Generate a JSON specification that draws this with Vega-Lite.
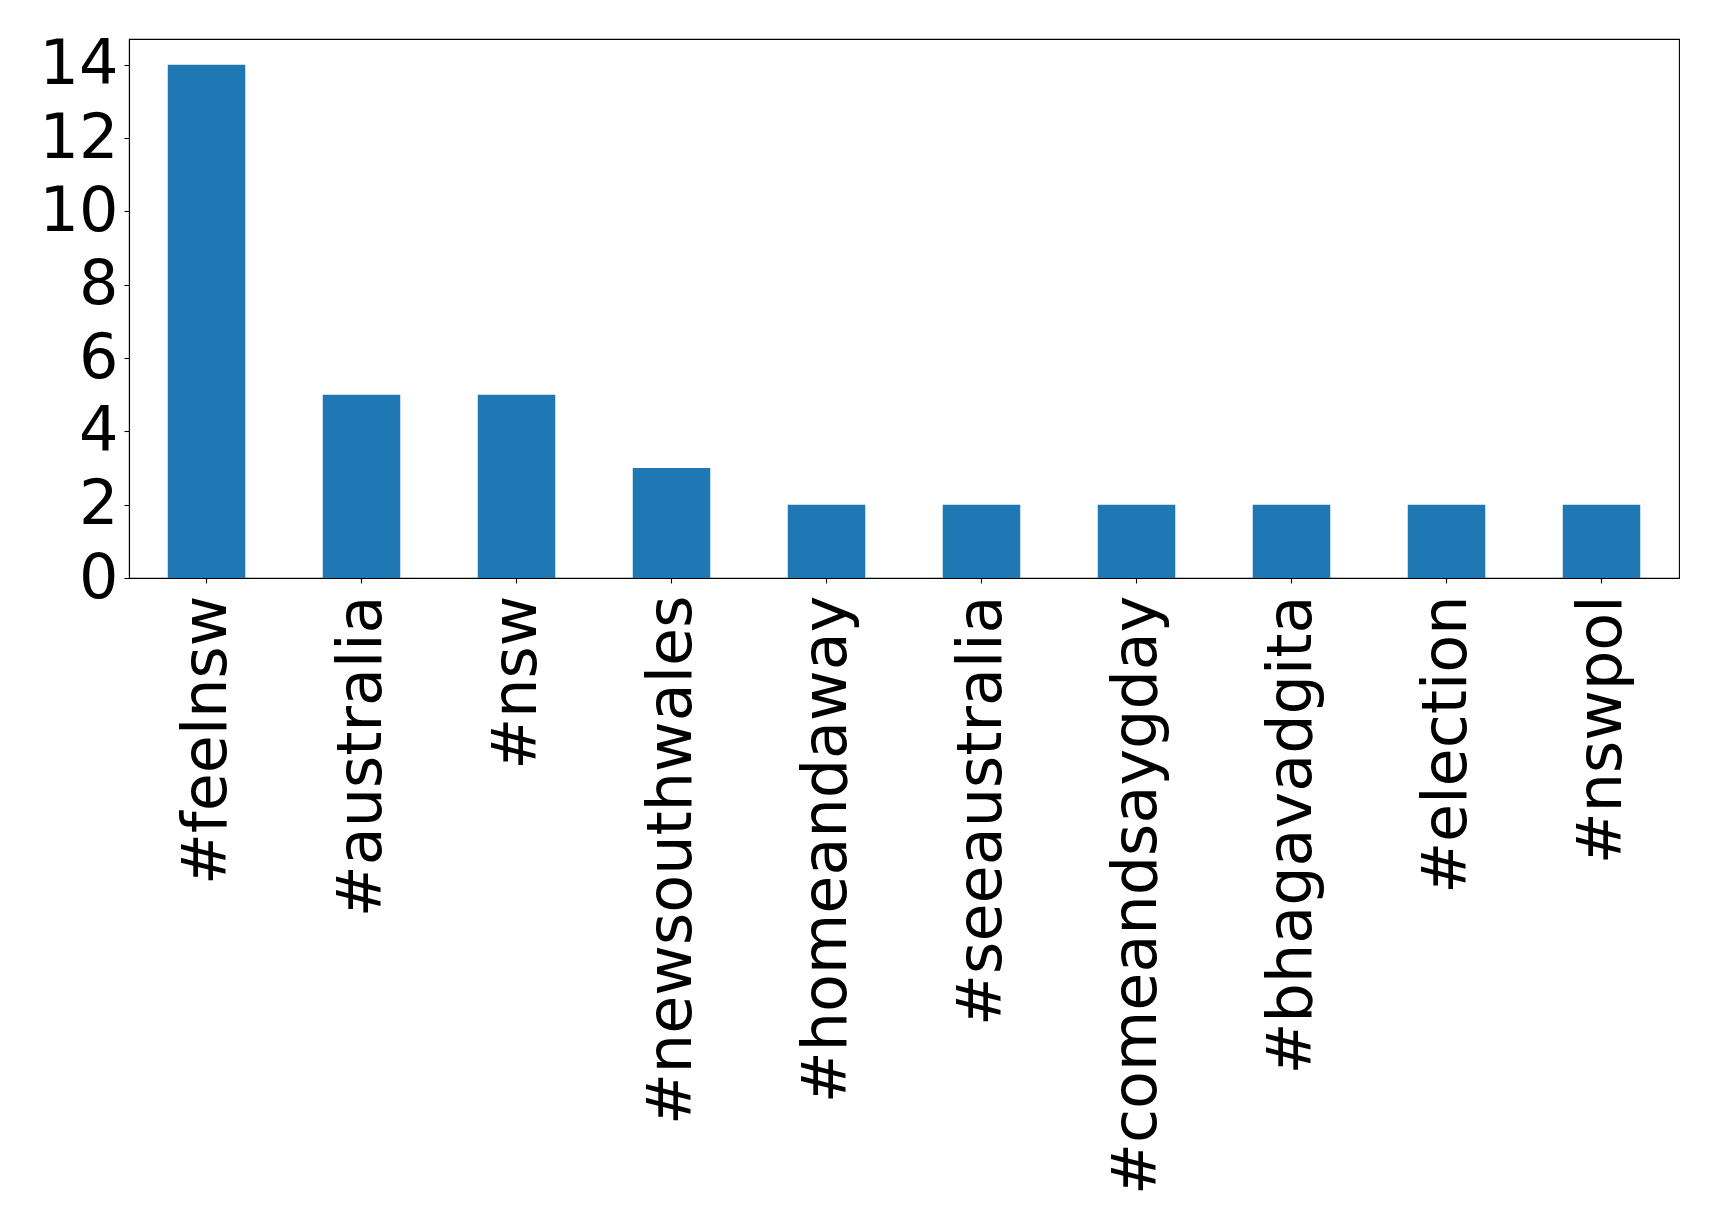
{
  "$schema": "https://vega.github.io/schema/vega-lite/v6.json",
  "width": 1550,
  "height": 539,
  "autosize": {"type": "none"},
  "padding": {"left": 129, "top": 39, "right": 40, "bottom": 654},
  "background": "white",
  "config": {
    "view": {"stroke": "black", "strokeWidth": 1.1},
    "font": "DejaVu Sans"
  },
  "data": {
    "values": [
      {"hashtag": "#feelnsw", "count": 14},
      {"hashtag": "#australia", "count": 5},
      {"hashtag": "#nsw", "count": 5},
      {"hashtag": "#newsouthwales", "count": 3},
      {"hashtag": "#homeandaway", "count": 2},
      {"hashtag": "#seeaustralia", "count": 2},
      {"hashtag": "#comeandsaygday", "count": 2},
      {"hashtag": "#bhagavadgita", "count": 2},
      {"hashtag": "#election", "count": 2},
      {"hashtag": "#nswpol", "count": 2}
    ]
  },
  "mark": {"type": "bar", "color": "#1f77b4"},
  "encoding": {
    "x": {
      "field": "hashtag",
      "type": "nominal",
      "sort": null,
      "scale": {"paddingInner": 0.5, "paddingOuter": 0.25},
      "axis": {
        "title": null,
        "labelAngle": 270,
        "labelAlign": "right",
        "labelBaseline": "middle",
        "labelFont": "DejaVu Sans",
        "labelFontSize": 62,
        "labelColor": "black",
        "labelPadding": 12,
        "tickSize": 5,
        "tickColor": "black",
        "tickWidth": 1.1,
        "domainColor": "black",
        "domainWidth": 1.1,
        "grid": false,
        "labelOverlap": false,
        "labelLimit": 0
      }
    },
    "y": {
      "field": "count",
      "type": "quantitative",
      "scale": {"domain": [0, 14.7], "nice": false, "zero": true},
      "axis": {
        "title": null,
        "values": [0, 2, 4, 6, 8, 10, 12, 14],
        "labelFont": "DejaVu Sans",
        "labelFontSize": 62,
        "labelColor": "black",
        "labelPadding": 6,
        "labelBaseline": "middle",
        "tickSize": 5,
        "tickColor": "black",
        "tickWidth": 1.1,
        "domainColor": "black",
        "domainWidth": 1.1,
        "grid": false,
        "labelOverlap": false,
        "labelFlush": false
      }
    }
  }
}
